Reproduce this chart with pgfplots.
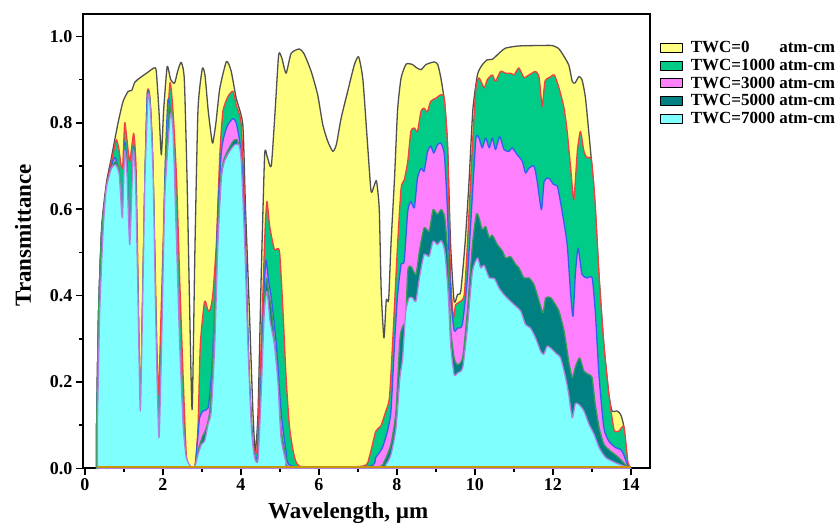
\documentclass[border=0pt]{standalone}
\usepackage{fontspec}
\setmainfont{Liberation Serif}
\usepackage{pgfplots}
\pgfplotsset{compat=1.18}

\definecolor{yellowF}{HTML}{FFFF80}
\definecolor{greenF}{HTML}{00CC88}
\definecolor{magentaF}{HTML}{FF80FF}
\definecolor{tealF}{HTML}{008080}
\definecolor{cyanF}{HTML}{80FFFF}
\definecolor{grayL}{HTML}{505050}
\definecolor{redL}{HTML}{F04040}
\definecolor{blueL}{HTML}{3060F0}
\definecolor{greenL}{HTML}{3A9A5A}
\definecolor{purpleL}{HTML}{B080E0}
\definecolor{goldL}{HTML}{C89600}

\begin{document}
\begin{tikzpicture}
\path (-83pt,-60.5pt) rectangle (754pt,468.5pt);
\begin{axis}[
    scale only axis,
    width=567pt, height=454.5pt,
    xmin=-0.05, xmax=14.49,
    ymin=0, ymax=1.052,
    xtick={0,2,4,6,8,10,12,14},
    minor xtick={1,3,5,7,9,11,13},
    ytick={0,0.2,0.4,0.6,0.8,1.0},
    minor ytick={0.1,0.3,0.5,0.7,0.9},
    xtick pos=left, ytick pos=left,
    tick align=outside,
    major tick length=7pt, minor tick length=4pt,
    every tick/.style={black, line width=1.6pt},
    axis line style={line width=1.8pt},
    ticklabel style={font=\fontsize{18}{18}\selectfont\bfseries},
    /pgf/number format/assume math mode=true,
    yticklabel style={/pgf/number format/.cd, fixed, fixed zerofill, precision=1},
    xlabel={Wavelength, µm},
    ylabel={Transmittance},
    label style={font=\fontsize{23}{23}\selectfont\bfseries},
    xlabel style={at={(axis description cs:0.468,-0.098)}, anchor=center},
    ylabel style={at={(axis description cs:-0.106,0.513)}, anchor=center, rotate=0},
    legend style={at={(rel axis cs:1.0176,0.944)}, anchor=north west, draw=none, fill=none,
        inner sep=0pt, row sep=0.8pt, font=\fontsize{17}{18}\selectfont\bfseries,
        cells={anchor=west},
        /tikz/every odd column/.append style={column sep=6pt}},
    legend image code/.code={\draw[#1, draw=black, line width=0.8pt] (0pt,-4.5pt) rectangle (22pt,4.5pt);},
    every axis plot/.append style={line width=1.3pt, smooth, tension=0.35, line join=round},
]

% TWC = 0
\addplot[fill=yellowF, draw=grayL] coordinates {
(0.30,0.10) (0.35,0.36) (0.43,0.56) (0.55,0.66) (0.68,0.72) (0.85,0.80) (0.98,0.85)
(1.11,0.873) (1.20,0.875) (1.28,0.894) (1.41,0.904) (1.58,0.915) (1.77,0.927) (1.83,0.92)
(1.90,0.826) (1.96,0.726) (2.02,0.83) (2.11,0.93) (2.20,0.90) (2.30,0.892) (2.38,0.92)
(2.47,0.94) (2.55,0.90) (2.62,0.67) (2.68,0.40) (2.75,0.136) (2.82,0.50) (2.90,0.83)
(3.01,0.925) (3.08,0.91) (3.16,0.83) (3.24,0.77) (3.28,0.753) (3.36,0.80) (3.46,0.88)
(3.63,0.942) (3.75,0.92) (3.88,0.857) (4.05,0.795) (4.12,0.60) (4.22,0.36) (4.31,0.13)
(4.37,0.04) (4.44,0.13) (4.52,0.44) (4.61,0.726) (4.68,0.72) (4.78,0.70) (4.88,0.83)
(4.97,0.958) (5.05,0.95) (5.16,0.915) (5.29,0.961) (5.50,0.971) (5.62,0.96) (5.80,0.92)
(5.97,0.865) (6.10,0.796) (6.23,0.757) (6.36,0.734) (6.45,0.75) (6.57,0.81) (6.74,0.873)
(6.91,0.934) (7.02,0.953) (7.13,0.90) (7.25,0.75) (7.34,0.641) (7.42,0.655) (7.48,0.665)
(7.55,0.60) (7.60,0.41) (7.67,0.302) (7.73,0.39) (7.79,0.39) (7.85,0.518) (7.94,0.67)
(8.02,0.83) (8.11,0.904) (8.24,0.936) (8.40,0.935) (8.50,0.928) (8.62,0.923) (8.75,0.935)
(8.96,0.941) (9.05,0.935) (9.13,0.904) (9.22,0.85) (9.30,0.75) (9.38,0.518) (9.47,0.387)
(9.56,0.403) (9.64,0.41) (9.75,0.52) (9.85,0.66) (9.95,0.83) (10.07,0.912) (10.19,0.934)
(10.32,0.946) (10.45,0.947) (10.62,0.961) (10.79,0.973) (11.13,0.978) (11.65,0.979)
(11.99,0.979) (12.15,0.972) (12.24,0.961) (12.41,0.934) (12.50,0.896) (12.57,0.892)
(12.67,0.907) (12.75,0.900) (12.84,0.857) (12.97,0.734) (13.06,0.641) (13.19,0.441)
(13.31,0.287) (13.44,0.171) (13.52,0.133) (13.65,0.133) (13.74,0.125) (13.82,0.098)
(13.91,0.017) (13.97,0.005) (14.00,0.0)
} \closedcycle;
\addlegendentry{TWC=0\phantom{000} atm-cm}

% TWC = 1000
\addplot[fill=greenF, draw=redL] coordinates {
(0.30,0.10) (0.35,0.36) (0.43,0.55) (0.55,0.65) (0.68,0.71) (0.75,0.74) (0.81,0.761)
(0.87,0.74) (0.93,0.70) (0.97,0.70) (1.02,0.80) (1.08,0.76) (1.15,0.71) (1.25,0.776)
(1.31,0.70) (1.36,0.45) (1.42,0.133) (1.48,0.40) (1.54,0.672) (1.60,0.869) (1.66,0.865)
(1.73,0.75) (1.79,0.52) (1.88,0.171) (1.95,0.35) (2.07,0.71) (2.18,0.892) (2.26,0.826)
(2.35,0.672) (2.43,0.441) (2.52,0.21) (2.60,0.032) (2.69,0.005) (2.82,0.005) (2.90,0.094)
(2.96,0.287) (3.07,0.387) (3.16,0.364) (3.22,0.37) (3.28,0.402) (3.37,0.518) (3.46,0.726)
(3.54,0.827) (3.67,0.861) (3.80,0.873) (3.88,0.842) (4.01,0.796) (4.10,0.595) (4.18,0.287)
(4.27,0.094) (4.35,0.04) (4.42,0.05) (4.52,0.287) (4.62,0.55) (4.67,0.618) (4.74,0.56)
(4.86,0.507) (4.99,0.503) (5.08,0.364) (5.16,0.21) (5.25,0.094) (5.38,0.025) (5.59,0.003)
(7.12,0.005) (7.29,0.025) (7.46,0.086) (7.59,0.098) (7.72,0.133) (7.81,0.163) (7.89,0.287)
(8.02,0.518) (8.11,0.649) (8.19,0.668) (8.28,0.71) (8.36,0.78) (8.45,0.788) (8.53,0.78)
(8.62,0.827) (8.70,0.834) (8.78,0.825) (8.87,0.85) (9.00,0.857) (9.13,0.865) (9.22,0.855)
(9.30,0.75) (9.34,0.595) (9.38,0.441) (9.45,0.349) (9.51,0.379) (9.64,0.387) (9.73,0.402)
(9.81,0.518) (9.94,0.75) (10.03,0.881) (10.11,0.904) (10.24,0.881) (10.32,0.90) (10.45,0.911)
(10.53,0.896) (10.66,0.919) (10.79,0.915) (10.92,0.915) (11.01,0.911) (11.13,0.927)
(11.26,0.905) (11.39,0.911) (11.56,0.919) (11.65,0.905) (11.73,0.838) (11.80,0.896)
(11.95,0.907) (12.04,0.911) (12.16,0.881) (12.29,0.834) (12.37,0.78) (12.46,0.695)
(12.54,0.622) (12.63,0.734) (12.71,0.78) (12.80,0.734) (12.88,0.719) (12.99,0.715)
(13.09,0.611) (13.19,0.441) (13.31,0.287) (13.44,0.171) (13.57,0.09) (13.69,0.086)
(13.82,0.098) (13.88,0.056) (13.93,0.013) (14.00,0.0)
} \closedcycle;
\addlegendentry{TWC=1000 atm-cm}

% TWC = 3000
\addplot[fill=magentaF, draw=blueL] coordinates {
(0.30,0.10) (0.35,0.36) (0.43,0.55) (0.55,0.645) (0.68,0.70) (0.77,0.72) (0.85,0.695)
(0.90,0.64) (0.96,0.58) (1.02,0.753) (1.08,0.70) (1.15,0.518) (1.24,0.742) (1.30,0.68)
(1.36,0.40) (1.42,0.133) (1.48,0.38) (1.54,0.672) (1.60,0.867) (1.67,0.85) (1.75,0.672)
(1.83,0.287) (1.90,0.071) (1.97,0.30) (2.05,0.672) (2.13,0.853) (2.22,0.803) (2.30,0.626)
(2.39,0.364) (2.47,0.171) (2.56,0.04) (2.65,0.005) (2.82,0.003) (2.88,0.056) (2.94,0.117)
(3.03,0.133) (3.16,0.14) (3.24,0.21) (3.33,0.364) (3.41,0.595) (3.50,0.734) (3.58,0.773)
(3.67,0.796) (3.80,0.81) (3.88,0.80) (3.97,0.757) (4.05,0.672) (4.14,0.441) (4.22,0.21)
(4.31,0.056) (4.37,0.02) (4.44,0.04) (4.52,0.21) (4.61,0.441) (4.65,0.483) (4.70,0.44)
(4.78,0.395) (4.91,0.287) (5.03,0.133) (5.16,0.04) (5.33,0.005) (7.29,0.005) (7.46,0.025)
(7.63,0.048) (7.76,0.086) (7.85,0.133) (7.94,0.287) (8.02,0.402) (8.11,0.472) (8.19,0.48)
(8.28,0.595) (8.36,0.618) (8.45,0.603) (8.53,0.672) (8.62,0.695) (8.70,0.688) (8.79,0.734)
(8.87,0.746) (8.95,0.73) (9.04,0.749) (9.13,0.753) (9.22,0.726) (9.30,0.595) (9.38,0.402)
(9.47,0.32) (9.56,0.325) (9.68,0.333) (9.81,0.441) (9.94,0.634) (10.03,0.765) (10.11,0.765)
(10.19,0.742) (10.28,0.765) (10.37,0.742) (10.45,0.765) (10.53,0.738) (10.64,0.768)
(10.75,0.738) (10.88,0.734) (10.96,0.742) (11.09,0.726) (11.22,0.711) (11.30,0.684)
(11.39,0.695) (11.52,0.70) (11.60,0.665) (11.71,0.599) (11.78,0.665) (11.90,0.672)
(12.02,0.657) (12.12,0.653) (12.24,0.595) (12.37,0.518) (12.46,0.402) (12.52,0.352)
(12.58,0.45) (12.65,0.51) (12.75,0.449) (12.88,0.441) (13.01,0.441) (13.09,0.364)
(13.19,0.21) (13.31,0.094) (13.44,0.063) (13.61,0.048) (13.74,0.044) (13.82,0.032)
(13.93,0.005) (14.00,0.0)
} \closedcycle;
\addlegendentry{TWC=3000 atm-cm}

% TWC = 5000
\addplot[fill=tealF, draw=greenL] coordinates {
(0.30,0.10) (0.35,0.36) (0.43,0.55) (0.55,0.645) (0.68,0.695) (0.79,0.71) (0.88,0.69)
(0.96,0.58) (1.02,0.745) (1.08,0.69) (1.15,0.518) (1.24,0.74) (1.30,0.67) (1.36,0.40)
(1.42,0.133) (1.48,0.38) (1.54,0.672) (1.62,0.865) (1.68,0.84) (1.75,0.672) (1.83,0.287)
(1.90,0.071) (1.97,0.30) (2.05,0.65) (2.15,0.838) (2.22,0.80) (2.30,0.60) (2.39,0.33)
(2.47,0.15) (2.56,0.035) (2.65,0.004) (2.82,0.003) (2.90,0.04) (3.00,0.07) (3.10,0.09)
(3.20,0.13) (3.28,0.25) (3.36,0.45) (3.46,0.65) (3.55,0.71) (3.66,0.735) (3.80,0.757)
(3.90,0.761) (3.97,0.73) (4.05,0.62) (4.14,0.40) (4.22,0.18) (4.31,0.05) (4.37,0.018)
(4.44,0.03) (4.52,0.18) (4.60,0.38) (4.66,0.44) (4.72,0.40) (4.78,0.37) (4.91,0.248)
(5.03,0.094) (5.16,0.025) (5.29,0.003) (7.46,0.003) (7.68,0.017) (7.85,0.056) (7.98,0.133)
(8.07,0.287) (8.11,0.318) (8.18,0.333) (8.22,0.32) (8.28,0.456) (8.36,0.468) (8.49,0.449)
(8.58,0.503) (8.70,0.557) (8.83,0.549) (8.93,0.599) (9.04,0.588) (9.14,0.599) (9.23,0.58)
(9.32,0.48) (9.38,0.325) (9.47,0.256) (9.56,0.24) (9.69,0.256) (9.81,0.364) (9.94,0.518)
(10.04,0.588) (10.11,0.58) (10.19,0.553) (10.28,0.56) (10.37,0.534) (10.45,0.54)
(10.58,0.518) (10.71,0.503) (10.79,0.487) (10.92,0.49) (11.05,0.472) (11.13,0.465)
(11.26,0.441) (11.39,0.441) (11.52,0.425) (11.65,0.387) (11.75,0.36) (11.82,0.395)
(11.95,0.395) (12.07,0.379) (12.16,0.364) (12.29,0.318) (12.41,0.248) (12.50,0.21)
(12.58,0.235) (12.69,0.256) (12.80,0.225) (12.93,0.217) (13.01,0.21) (13.09,0.148)
(13.19,0.094) (13.31,0.056) (13.48,0.04) (13.69,0.025) (13.90,0.005) (14.00,0.0)
} \closedcycle;
\addlegendentry{TWC=5000 atm-cm}

% TWC = 7000
\addplot[fill=cyanF, draw=purpleL] coordinates {
(0.32,0.10) (0.38,0.364) (0.47,0.557) (0.55,0.649) (0.68,0.695) (0.79,0.703) (0.88,0.68)
(0.96,0.58) (1.02,0.734) (1.08,0.68) (1.15,0.518) (1.24,0.735) (1.30,0.66) (1.36,0.40)
(1.42,0.133) (1.48,0.38) (1.54,0.672) (1.62,0.864) (1.68,0.83) (1.75,0.672) (1.83,0.287)
(1.90,0.071) (1.97,0.30) (2.05,0.63) (2.19,0.819) (2.26,0.78) (2.33,0.58) (2.43,0.29)
(2.52,0.10) (2.60,0.025) (2.73,0.002) (2.82,0.005) (2.90,0.032) (2.99,0.056) (3.07,0.063)
(3.16,0.102) (3.24,0.133) (3.33,0.287) (3.41,0.518) (3.50,0.672) (3.58,0.711) (3.71,0.734)
(3.84,0.749) (3.95,0.749) (4.01,0.711) (4.10,0.518) (4.18,0.287) (4.27,0.094) (4.35,0.025)
(4.44,0.02) (4.52,0.171) (4.60,0.36) (4.67,0.41) (4.75,0.341) (4.86,0.287) (4.95,0.20)
(5.03,0.071) (5.16,0.015) (5.29,0.002) (7.55,0.002) (7.72,0.009) (7.85,0.032) (7.98,0.094)
(8.08,0.21) (8.15,0.256) (8.23,0.364) (8.32,0.395) (8.40,0.395) (8.49,0.387) (8.58,0.441)
(8.70,0.495) (8.83,0.491) (8.93,0.526) (9.04,0.518) (9.14,0.527) (9.23,0.503) (9.32,0.402)
(9.38,0.287) (9.47,0.217) (9.56,0.221) (9.69,0.233) (9.81,0.325) (9.94,0.456) (10.07,0.487)
(10.15,0.464) (10.24,0.47) (10.37,0.441) (10.50,0.44) (10.62,0.418) (10.75,0.402)
(10.88,0.39) (11.01,0.379) (11.18,0.364) (11.30,0.333) (11.43,0.325) (11.56,0.302)
(11.69,0.271) (11.77,0.264) (11.86,0.283) (11.99,0.275) (12.10,0.265) (12.20,0.256)
(12.33,0.21) (12.41,0.171) (12.50,0.117) (12.58,0.15) (12.67,0.148) (12.80,0.133)
(12.93,0.102) (13.06,0.079) (13.19,0.048) (13.36,0.025) (13.61,0.013) (13.90,0.003)
(14.00,0.0)
} \closedcycle;
\addlegendentry{TWC=7000 atm-cm}

\addplot[draw=goldL, line width=1.5pt, forget plot] coordinates {(0.3,0.003) (14,0.003)};

\end{axis}
\end{tikzpicture}
\end{document}
